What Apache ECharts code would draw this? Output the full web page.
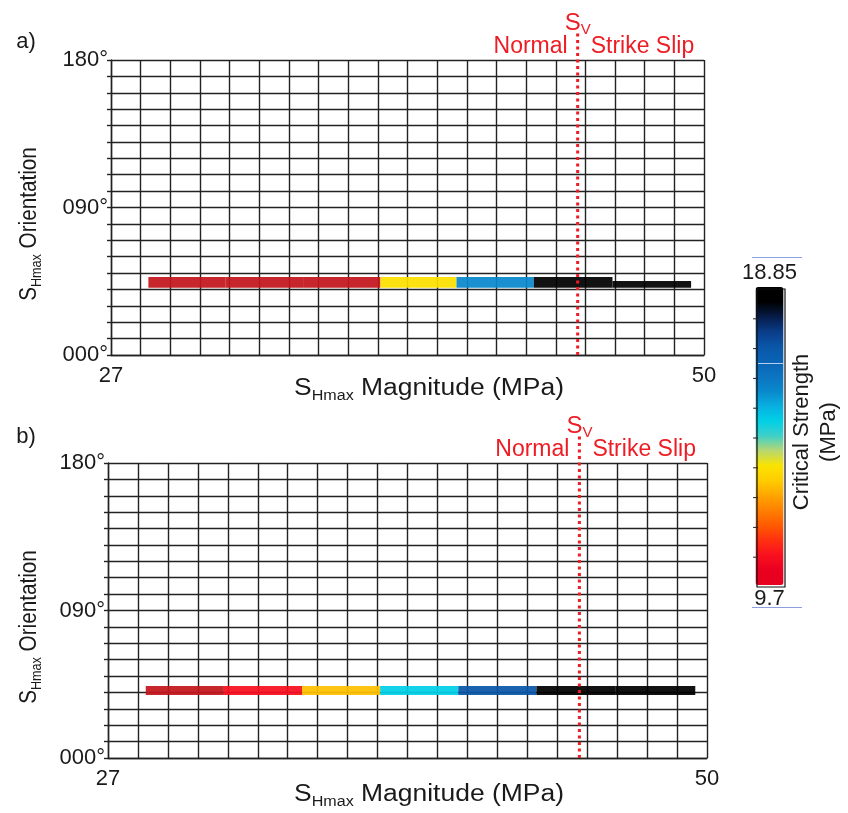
<!DOCTYPE html>
<html>
<head>
<meta charset="utf-8">
<script src="https://cdn.jsdelivr.net/npm/echarts@6/dist/echarts.min.js"></script>
<style>
  html, body { margin: 0; padding: 0; background: #ffffff; }
  #chart { width: 848px; height: 813px; }
</style>
</head>
<body>
<div id="chart"></div>
<script>
// ---------- data ----------
// panel a)
const shmaxFromA = [28.45, 31.45, 34.45, 37.45, 40.4, 43.4, 46.45];
const shmaxToA   = [31.45, 34.45, 37.45, 40.4, 43.4, 46.45, 49.5];
const orientLoA  = [41, 41, 41, 41, 41, 41, 41];
const orientHiA  = [47.6, 47.6, 47.6, 47.6, 47.6, 47.6, 45.1];
const strengthA  = [9.5, 9.5, 9.5, 13.3, 15.65, 18.85, 18.85];
// panel b)
const shmaxFromB = [28.45, 31.45, 34.45, 37.45, 40.45, 43.45, 46.5];
const shmaxToB   = [31.45, 34.45, 37.45, 40.45, 43.45, 46.5, 49.55];
const orientLoB  = [38.4, 38.4, 38.4, 38.4, 38.4, 38.4, 38.4];
const orientHiB  = [43.9, 43.9, 43.9, 43.9, 43.9, 43.9, 43.9];
const strengthB  = [9.5, 10.6, 12.77, 14.73, 17.02, 18.85, 18.85];
// vertical stress
const svMagnitude = [45.1];
// axes
const magnitudeRange = [27, 50];
const orientationRange = [0, 180];
const orientationTickLabels = { 0: '000°', 90: '090°', 180: '180°' };
const strengthRange = [9.7, 18.85];
const strengthLabels = ['18.85', '9.7'];

// ---------- helpers ----------
const FONT = '"Liberation Sans", Arial, Helvetica, sans-serif';
const TXT = '#1a1a1a';
const RED = '#ee1c24';
const GRIDC = '#222222';
const BELOW_RANGE = '#c2161c';

function buildSegs(from, to, lo, hi, st) {
  return from.map((f, i) => [f, to[i], lo[i], hi[i], st[i]]);
}

function rectRender(params, api) {
  const p0 = api.coord([api.value(0), api.value(3)]);
  const p1 = api.coord([api.value(1), api.value(2)]);
  const s = api.value(4);
  return {
    type: 'rect',
    shape: { x: p0[0], y: p0[1], width: p1[0] - p0[0], height: p1[1] - p0[1] },
    style: { fill: s < strengthRange[0] ? BELOW_RANGE : api.visual('color'), opacity: 0.93 }
  };
}

function svRender(params, api) {
  const v = api.value(0);
  const b = api.coord([v, orientationRange[0]]);
  const t = api.coord([v, orientationRange[1]]);
  return {
    type: 'group',
    children: [
      { type: 'line', shape: { x1: b[0], y1: b[1], x2: t[0], y2: t[1] - 27 },
        style: { stroke: RED, lineWidth: 3, lineDash: [3, 3.5] } },
      { type: 'text', x: t[0] - 10, y: t[1] - 13,
        style: { text: 'Normal', fill: RED, fontSize: 23, fontFamily: FONT, align: 'right', verticalAlign: 'middle' } },
      { type: 'text', x: t[0] + 13, y: t[1] - 13,
        style: { text: 'Strike Slip', fill: RED, fontSize: 23, fontFamily: FONT, align: 'left', verticalAlign: 'middle' } },
      { type: 'text', x: t[0], y: t[1] - 37,
        style: { text: '{s|S}{v|V}', align: 'center', verticalAlign: 'middle', fill: RED,
          rich: {
            s: { fontSize: 24, fontFamily: FONT, fill: RED, lineHeight: 28 },
            v: { fontSize: 15, fontFamily: FONT, fill: RED, verticalAlign: 'bottom', lineHeight: 28 }
          } } }
    ]
  };
}

function magAxis(gridIndex) {
  return {
    gridIndex, type: 'value', min: magnitudeRange[0], max: magnitudeRange[1], interval: 1,
    position: 'bottom',
    axisLine: { show: true, lineStyle: { color: GRIDC, width: 1.4 } },
    axisTick: { show: false },
    splitLine: { show: false },
    axisLabel: {
      show: true, margin: 10, fontSize: 22, color: TXT, fontFamily: FONT,
      formatter: v => (v === magnitudeRange[0] || v === magnitudeRange[1]) ? String(v) : ''
    }
  };
}
function columnAxis(gridIndex) {
  return {
    gridIndex, type: 'value', min: 0, max: 20, interval: 1, position: 'top',
    axisLine: { show: false }, axisTick: { show: false }, axisLabel: { show: false },
    splitLine: { show: true, lineStyle: { color: GRIDC, width: 1.4 } }
  };
}
function orientAxis(gridIndex) {
  return {
    gridIndex, type: 'value', min: orientationRange[0], max: orientationRange[1], interval: 10,
    axisLine: { show: true, lineStyle: { color: GRIDC, width: 1.4 } },
    axisTick: { show: true, length: 4, lineStyle: { color: GRIDC, width: 1.4 } },
    splitLine: { show: true, lineStyle: { color: GRIDC, width: 1.4 } },
    axisLabel: {
      show: true, margin: 3, fontSize: 22, color: TXT, fontFamily: FONT,
      formatter: v => orientationTickLabels[v] || ''
    }
  };
}

const subRich = {
  s: { fontSize: 23, fontFamily: FONT, fill: TXT, lineHeight: 28 },
  h: { fontSize: 14, fontFamily: FONT, fill: TXT, verticalAlign: 'bottom', lineHeight: 28 },
  t: { fontSize: 23, fontFamily: FONT, fill: TXT, lineHeight: 28 }
};
function txt(x, y, text, extra) {
  return Object.assign({ type: 'text', x, y,
    style: { text, fill: TXT, fontSize: 22, fontFamily: FONT, align: 'center', verticalAlign: 'middle' } }, extra || {});
}
function richTitle(x, y, text, rotation, sx, sy) {
  return { type: 'text', x, y, rotation: rotation || 0, scaleX: sx || 1, scaleY: sy || 1,
    style: { text, rich: subRich, align: 'center', verticalAlign: 'middle', fill: TXT } };
}

// colour bar geometry (decoration)
const CB = { x: 757, y: 289, w: 28, h: 298 };
const cbDecor = [];
cbDecor.push({ type: 'rect', shape: { x: CB.x, y: CB.y, width: CB.w, height: CB.h },
  style: { fill: 'none', stroke: '#111', lineWidth: 1.2 }, z: 100 });
for (let k = 1; k <= 9; k++) {
  const yy = CB.y + CB.h * (1 - k / 10);
  cbDecor.push({ type: 'line', shape: { x1: CB.x - 4, y1: yy, x2: CB.x + 1, y2: yy },
    style: { stroke: '#222', lineWidth: 1 }, z: 100 });
}
cbDecor.push({ type: 'line', shape: { x1: 752, y1: 257.5, x2: 802, y2: 257.5 }, style: { stroke: '#8aa2dc', lineWidth: 1 }, z: 100 });
cbDecor.push({ type: 'line', shape: { x1: 752, y1: 607.5, x2: 802, y2: 607.5 }, style: { stroke: '#8aa2dc', lineWidth: 1 }, z: 100 });
cbDecor.push({ type: 'line', shape: { x1: CB.x + 1, y1: 363.5, x2: CB.x + CB.w - 1, y2: 363.5 }, style: { stroke: '#b8cff0', lineWidth: 1 }, z: 100 });

const chart = echarts.init(document.getElementById('chart'), null, { renderer: 'canvas' });
chart.setOption({
  animation: false,
  backgroundColor: '#ffffff',
  grid: [
    { left: 111, top: 60, width: 593, height: 295 },
    { left: 108, top: 463, width: 599, height: 295 }
  ],
  xAxis: [magAxis(0), columnAxis(0), magAxis(1), columnAxis(1)],
  yAxis: [orientAxis(0), orientAxis(1)],
  visualMap: [{
    type: 'continuous', seriesIndex: [0, 1], dimension: 4,
    min: strengthRange[0], max: strengthRange[1],
    orient: 'vertical', left: 742, top: 262, padding: 0,
    itemWidth: CB.w, itemHeight: CB.h,
    text: strengthLabels, textGap: 3,
    textStyle: { fontSize: 22, color: TXT, fontFamily: FONT },
    calculable: false, hoverLink: false,
    inRange: { color: [
      '#e5001e', '#ea0020', '#f8101f', '#ff3010', '#ff5a00', '#ff7f00', '#ffa500',
      '#ffcc00', '#fbe300', '#b8d870', '#40d0c8', '#00d0e6', '#08b0e0', '#0a88cc',
      '#0c74c0', '#0a64b4', '#0a56a8', '#0a3c88', '#061c48', '#000000', '#000000'
    ] }
  }],
  graphic: [
    txt(26, 42, 'a)'),
    txt(26, 437, 'b)'),
    richTitle(429, 389, '{s|S}{h|Hmax}{t| Magnitude (MPa)}', 0, 1.15, 1),
    richTitle(429, 795, '{s|S}{h|Hmax}{t| Magnitude (MPa)}', 0, 1.15, 1),
    richTitle(30, 224, '{s|S}{h|Hmax}{t| Orientation}', Math.PI / 2, 0.9, 1),
    richTitle(30, 627, '{s|S}{h|Hmax}{t| Orientation}', Math.PI / 2, 0.9, 1),
    { type: 'text', x: 815, y: 432, rotation: Math.PI / 2,
      style: { text: 'Critical Strength\n(MPa)', fill: TXT, fontSize: 22, fontFamily: FONT,
        align: 'center', verticalAlign: 'middle', lineHeight: 27 } }
  ].concat(cbDecor),
  series: [
    { type: 'custom', name: 'a', xAxisIndex: 0, yAxisIndex: 0, z: 3,
      data: buildSegs(shmaxFromA, shmaxToA, orientLoA, orientHiA, strengthA),
      encode: { x: [0, 1], y: [2, 3] }, renderItem: rectRender },
    { type: 'custom', name: 'b', xAxisIndex: 2, yAxisIndex: 1, z: 3,
      data: buildSegs(shmaxFromB, shmaxToB, orientLoB, orientHiB, strengthB),
      encode: { x: [0, 1], y: [2, 3] }, renderItem: rectRender },
    { type: 'custom', name: 'SvA', xAxisIndex: 0, yAxisIndex: 0, z: 5,
      data: svMagnitude.map(v => [v]), encode: { x: 0 }, renderItem: svRender },
    { type: 'custom', name: 'SvB', xAxisIndex: 2, yAxisIndex: 1, z: 5,
      data: svMagnitude.map(v => [v]), encode: { x: 0 }, renderItem: svRender }
  ]
});
</script>
</body>
</html>
